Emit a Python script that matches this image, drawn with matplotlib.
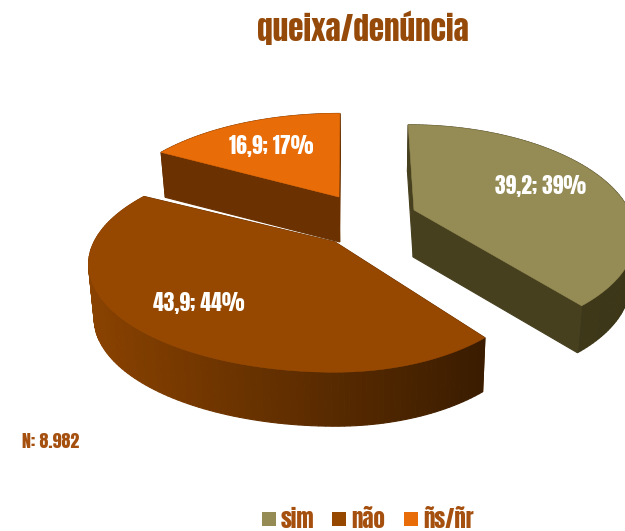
import numpy as np
import matplotlib
matplotlib.use('Agg')
import matplotlib.pyplot as plt
from matplotlib.colors import to_rgb
from matplotlib.patches import Rectangle

categories = ['sim', 'não', 'ñs/ñr']
values = [39.2, 43.9, 16.9]
percent_labels = ['39%', '44%', '17%']
note = 'N: 8.982'
title = 'queixa/denúncia'

top_colors = ['#958b54', '#974800', '#e86c07']
legend_colors = ['#958b54', '#974800', '#e86c07']
cut_colors = ['#46401f', '#5c2b00', '#6b3100']
arc_left = ['#46401f', '#8a4200', '#6b3100']
arc_right = ['#3c3618', '#3a1c00', '#6b3100']

# per slice drawing setup, picture is in pixel coordinates
apex = [(414, 210), (335, 242), (339, 197)]
rx_left = [215, 241, 225]
rx_right = [215, 200, 225]
ry = [103, 103, 101]
depth = [47, 54, 45]
lean = [-7, 0, 1]
label_pos = [(541, 186), (199, 303), (271, 146)]
tilt = 0.209
vanish_x = 370
squeeze = 0.02

plt.rcParams['font.family'] = ['Anton', 'DejaVu Sans']

fig = plt.figure(figsize=(6.25, 5.31), dpi=100)
ax = fig.add_axes([0, 0, 1, 1])
ax.set_xlim(0, 625)
ax.set_ylim(531, 0)
ax.axis('off')


def project(i, theta):
    X = np.sin(theta)
    Y = np.cos(theta)
    w = 1 + tilt * Y
    rx = np.where(X < 0, rx_left[i], rx_right[i])
    x = apex[i][0] + (X * rx + lean[i] * Y) / w
    y = apex[i][1] - Y * ry[i] / w
    return x, y


def drop(i, x, y):
    return x + (vanish_x - x) * squeeze, y + depth[i]


def mix(c1, c2, t):
    a = np.array(to_rgb(c1))
    b = np.array(to_rgb(c2))
    return tuple(a + (b - a) * t)


edges = np.concatenate([[0], np.cumsum(values)]) / np.sum(values) * 2 * np.pi

for i in [0, 2, 1]:
    th = np.linspace(edges[i], edges[i + 1], 121)
    x, y = project(i, th)
    ax0, ay0 = apex[i]
    bx, by = drop(i, x, y)
    bx0, by0 = drop(i, ax0, ay0)

    faces = []
    for j in range(len(th) - 1):
        quad = [(x[j], y[j]), (x[j + 1], y[j + 1]), (bx[j + 1], by[j + 1]), (bx[j], by[j])]
        t = (x[j] - x.min()) / (x.max() - x.min())
        faces.append((quad, mix(arc_left[i], arc_right[i], t)))
    for e in [0, -1]:
        quad = [(ax0, ay0), (x[e], y[e]), (bx[e], by[e]), (bx0, by0)]
        faces.append((quad, cut_colors[i]))
    faces.sort(key=lambda f: max(p[1] for p in f[0]))
    for quad, col in faces:
        ax.fill(*zip(*quad), color=col, lw=0.8, zorder=i + 1)

    ax.fill(np.r_[ax0, x], np.r_[ay0, y], color=top_colors[i], lw=0.4, zorder=i + 1.5)
    ax.text(label_pos[i][0], label_pos[i][1],
            '{}; {}'.format(str(values[i]).replace('.', ','), percent_labels[i]),
            color='white', fontsize=15.5, ha='center', va='center', zorder=10)

ax.text(363, 28, title, color='#964a0a', fontsize=22.5, ha='center', va='center')
ax.text(51, 441, note, color='#a5500f', fontsize=13, ha='center', va='center')

leg_x = [262, 332, 404]
for k in range(3):
    ax.add_patch(Rectangle((leg_x[k], 512), 14, 14, color=legend_colors[k], lw=0))
    ax.text(leg_x[k] + 19, 519, categories[k], color='#a5500f', fontsize=16.5, ha='left', va='center')

fig.savefig('out.png', dpi=100)
